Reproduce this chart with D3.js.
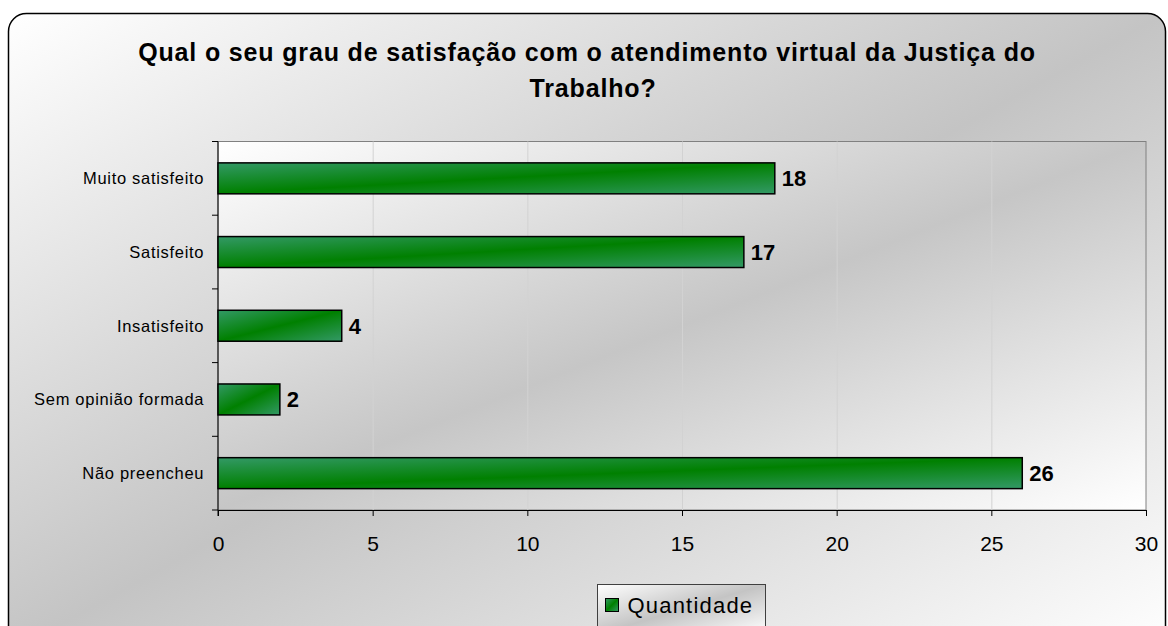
<!DOCTYPE html>
<html>
<head>
<meta charset="utf-8">
<script src="https://cdn.jsdelivr.net/npm/d3@7"></script>
<style>
    body { margin: 0; background: #ffffff; }
    svg { display: block; font-family: Arial, "Liberation Sans", sans-serif; }
</style>
</head>
<body>
<div id="chart"></div>
<script>
// data
const categories = ["Muito satisfeito", "Satisfeito", "Insatisfeito", "Sem opinião formada", "Não preencheu"];
const values = [18, 17, 4, 2, 26];
const xTicks = [0, 5, 10, 15, 20, 25, 30];
const titleLines = ["Qual o seu grau de satisfação com o atendimento virtual da Justiça do", "Trabalho?"];
const seriesName = "Quantidade";

const width = 1168;
const height = 626;
const margin = {top: 141.5, left: 218, right: 22, bottom: 116};

const plotWidth = width - margin.left - margin.right;
const plotHeight = height - margin.top - margin.bottom;

const svg = d3.select("#chart").append("svg")
    .attr("width", width)
    .attr("height", height);

/**********************
***** GRADIENTS *******
**********************/
const defs = svg.append("defs");

function diagGradient(id, edge, mid) {
    const g = defs.append("linearGradient")
        .attr("id", id)
        .attr("x1", 0).attr("y1", 0)
        .attr("x2", 1).attr("y2", 1);
    g.append("stop").attr("offset", "0%").attr("stop-color", edge);
    g.append("stop").attr("offset", "50%").attr("stop-color", mid);
    g.append("stop").attr("offset", "100%").attr("stop-color", edge);
}
diagGradient("bgGrad", "#ffffff", "#c4c4c4");
diagGradient("plotGrad", "#ffffff", "#c6c6c6");
diagGradient("barGrad", "#339966", "#008000");
diagGradient("legendGrad", "#ffffff", "#c4c4c4");

// chart area with rounded border
svg.append("rect")
    .attr("x", 8.5).attr("y", 13.5)
    .attr("width", 1157).attr("height", 640)
    .attr("rx", 18).attr("ry", 18)
    .style("fill", "url(#bgGrad)")
    .style("stroke", "#000")
    .style("stroke-width", 1.5);

/*********************
***** TITLE **********
*********************/
svg.selectAll(".chartTitle")
    .data(titleLines)
    .enter()
    .append("text")
    .attr("class", "chartTitle")
    .attr("x", (d, i) => i === 0 ? 587 : 593)
    .attr("y", (d, i) => 61 + i * 36)
    .attr("text-anchor", "middle")
    .style("font-weight", "bold")
    .style("font-size", "25px")
    .style("letter-spacing", "0.85px")
    .style("fill", "#000")
    .text(d => d);

/***********************
***** X & Y SCALES *****
***********************/
let xScale = d3.scaleLinear()
    .domain([0, 30])
    .range([0, plotWidth]);

let yScale = d3.scaleBand()
    .domain(categories)
    .range([0, plotHeight])
    .paddingInner(0.58)
    .paddingOuter(0.29);

const plot = svg.append("g")
    .attr("transform", `translate(${margin.left}, ${margin.top})`);

// plot background
plot.append("rect")
    .attr("width", plotWidth)
    .attr("height", plotHeight)
    .style("fill", "url(#plotGrad)")
    .style("stroke", "#808080")
    .style("stroke-width", 1);

// vertical grid
plot.append("g")
    .attr("class", "xGrid")
    .call(d3.axisBottom(xScale)
        .tickValues(xTicks.slice(1, -1))
        .tickSize(plotHeight)
        .tickFormat(""))
    .call(g => g.select(".domain").remove())
    .call(g => g.selectAll("line").style("stroke", "#d2d2d2").style("stroke-width", 1));

// x axis
plot.append("g")
    .attr("class", "xAxis")
    .attr("transform", `translate(0, ${plotHeight})`)
    .call(d3.axisBottom(xScale)
        .tickValues(xTicks)
        .tickSize(6)
        .tickSizeOuter(0)
        .tickPadding(20))
    .call(g => g.select(".domain").style("stroke", "#000"))
    .call(g => g.selectAll("line").style("stroke", "#000"))
    .call(g => g.selectAll("text")
        .style("font-family", "Arial, 'Liberation Sans', sans-serif")
        .style("font-size", "21px")
        .style("fill", "#000"));

// y axis: ticks at the band boundaries, labels at band centres
const boundaries = d3.range(categories.length + 1).map(i => i * plotHeight / categories.length);

const yAxis = plot.append("g").attr("class", "yAxis");
yAxis.append("line")
    .attr("x1", 0).attr("x2", 0)
    .attr("y1", 0).attr("y2", plotHeight + 6)
    .style("stroke", "#000");
yAxis.selectAll(".yTick")
    .data(boundaries)
    .enter()
    .append("line")
    .attr("class", "yTick")
    .attr("x1", -6).attr("x2", 0)
    .attr("y1", d => d).attr("y2", d => d)
    .style("stroke", "#000");
yAxis.selectAll(".yLabel")
    .data(categories)
    .enter()
    .append("text")
    .attr("class", "yLabel")
    .attr("x", -13.8)
    .attr("y", d => yScale(d) + yScale.bandwidth() / 2)
    .attr("dy", "0.35em")
    .attr("text-anchor", "end")
    .style("font-size", "16.5px")
    .style("letter-spacing", "0.7px")
    .style("fill", "#000")
    .text(d => d);

/*****************
***** BARS *******
*****************/
const rows = categories.map((c, i) => ({cat: c, val: values[i]}));

plot.selectAll(".bar")
    .data(rows)
    .enter()
    .append("rect")
    .attr("class", "bar")
    .attr("x", xScale(0))
    .attr("y", d => yScale(d.cat))
    .attr("width", d => xScale(d.val) - xScale(0))
    .attr("height", yScale.bandwidth())
    .style("fill", "url(#barGrad)")
    .style("stroke", "#000")
    .style("stroke-width", 1.5);

plot.selectAll(".valueLabel")
    .data(rows)
    .enter()
    .append("text")
    .attr("class", "valueLabel")
    .attr("x", d => xScale(d.val) + 7)
    .attr("y", d => yScale(d.cat) + yScale.bandwidth() / 2)
    .attr("dy", "0.36em")
    .style("font-weight", "bold")
    .style("font-size", "22px")
    .style("fill", "#000")
    .text(d => d.val);

/*****************
***** LEGEND *****
*****************/
const legend = svg.append("g")
    .attr("transform", "translate(597.5, 584.5)");
legend.append("rect")
    .attr("width", 168).attr("height", 50)
    .style("fill", "url(#legendGrad)")
    .style("stroke", "#404040")
    .style("stroke-width", 1);
legend.append("rect")
    .attr("x", 8).attr("y", 14)
    .attr("width", 13).attr("height", 13)
    .style("fill", "url(#barGrad)")
    .style("stroke", "#000")
    .style("stroke-width", 1);
legend.append("text")
    .attr("x", 30)
    .attr("y", 20.5)
    .attr("dy", "0.36em")
    .style("font-size", "22px")
    .style("letter-spacing", "1.2px")
    .style("fill", "#000")
    .text(seriesName);
</script>
</body>
</html>
